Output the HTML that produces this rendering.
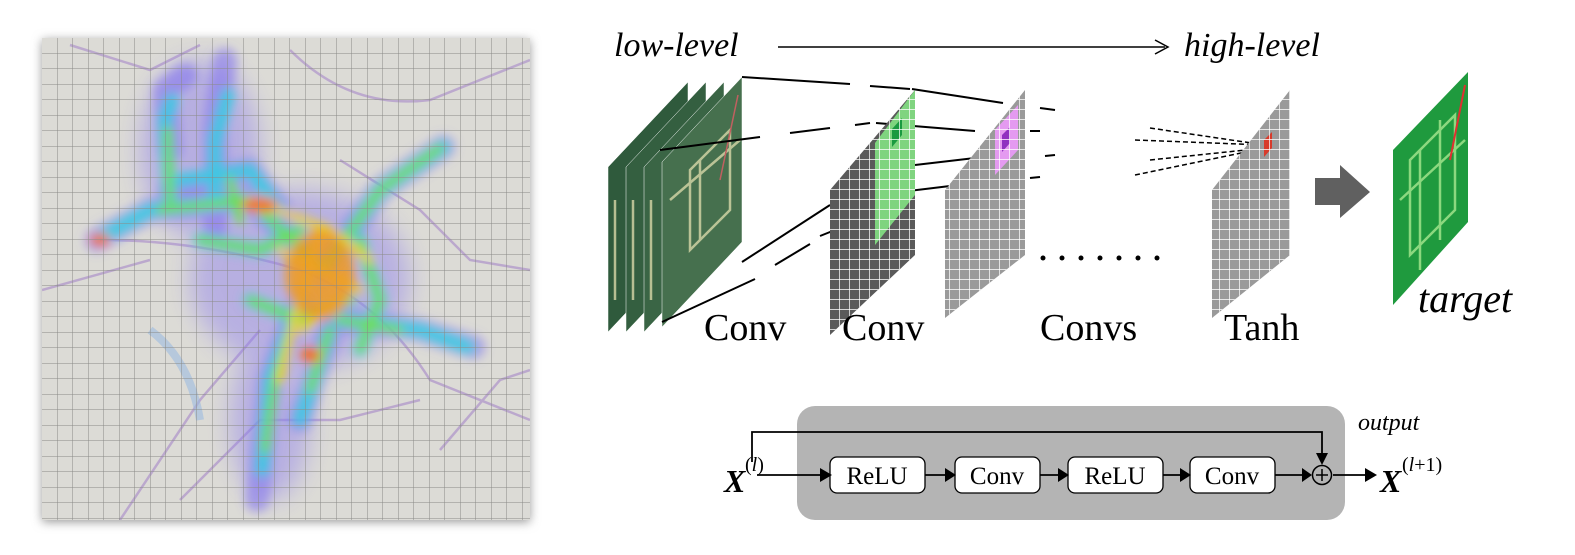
<!DOCTYPE html>
<html><head><meta charset="utf-8"><style>
html,body{margin:0;padding:0;background:#fff;width:1575px;height:555px;overflow:hidden}
svg{display:block}
</style></head><body>
<svg width="1575" height="555" viewBox="0 0 1575 555" xmlns="http://www.w3.org/2000/svg">
<defs>
<filter id="sh" x="-10%" y="-10%" width="120%" height="120%"><feGaussianBlur stdDeviation="5"/></filter>
<filter id="b6"><feGaussianBlur stdDeviation="5"/></filter>
<filter id="b12"><feGaussianBlur stdDeviation="12"/></filter>
<pattern id="grid" width="15.5" height="15.5" patternUnits="userSpaceOnUse" x="42" y="38">
<path d="M15.5 0V15.5M0 15.5H15.5" stroke="#8a8a86" stroke-width="1" fill="none"/>
</pattern>
<pattern id="g2" width="10" height="10" patternUnits="userSpaceOnUse">
<path d="M10 0V10M0 10H10" stroke="#fff" stroke-width="1.4" fill="none"/>
</pattern>
<clipPath id="mapc"><rect x="42" y="38" width="488" height="482"/></clipPath>
</defs>

<!-- map -->
<rect x="42" y="40" width="488" height="482" fill="#999" filter="url(#sh)"/>
<rect x="42" y="38" width="488" height="482" fill="#dcdbd6"/>
<g clip-path="url(#mapc)">
<g fill="none" stroke="#b49ccc" stroke-width="2.5" opacity="0.8">
<path d="M70 45 L150 70 L200 45"/><path d="M100 240 Q200 240 300 270 Q380 300 430 380 L530 420"/>
<path d="M42 290 L150 260"/><path d="M120 520 L200 400 L260 330"/>
<path d="M290 50 Q350 110 430 100 L530 60"/><path d="M340 160 L420 210 L470 260 L530 270"/>
<path d="M180 500 L260 420 L340 420 L420 400"/><path d="M440 450 L500 380 L530 370"/>
</g>
<path d="M150 330 Q190 360 200 420" stroke="#9dbbe0" stroke-width="8" fill="none" opacity="0.6"/>
<g filter="url(#b12)" opacity="0.45" fill="#8b7cf0">
<ellipse cx="300" cy="280" rx="110" ry="90"/><ellipse cx="200" cy="150" rx="60" ry="90"/><ellipse cx="270" cy="420" rx="40" ry="80"/>
</g>
<g fill="none" stroke-linecap="round" stroke-linejoin="round" filter="url(#b6)">
<g stroke="#7f70f0" stroke-width="24" opacity="0.55">
<path d="M323 270 L380 190 L443 147"/><path d="M323 270 L250 200 L150 210 L97 240"/>
<path d="M170 150 L165 90 L185 75"/><path d="M215 230 L215 130 L225 60"/>
<path d="M300 300 L270 380 L257 500"/><path d="M340 320 L420 330 L473 347"/>
<path d="M330 330 L310 390 L300 420"/><path d="M170 190 L250 170 L280 210"/>
</g>
<g stroke="#30d0e0" stroke-width="13" opacity="0.85">
<path d="M323 270 L380 190 L443 147"/><path d="M323 270 L250 200 L150 210 L97 240"/>
<path d="M170 200 L165 120 L172 100"/><path d="M215 200 L215 140 L228 95"/>
<path d="M300 300 L270 380 L262 470"/><path d="M340 320 L420 330 L468 347"/>
<path d="M330 330 L310 390 L300 420"/><path d="M180 180 L250 170 L280 210"/>
<path d="M200 240 L260 250 L300 230"/><path d="M250 300 L300 320 L350 300"/><path d="M360 240 L380 300 L360 350"/>
</g>
<g stroke="#70e040" stroke-width="8">
<path d="M323 270 L380 190 L440 148"/><path d="M323 270 L250 200 L160 210"/>
<path d="M170 200 L168 130"/><path d="M300 300 L275 380 L265 450"/>
<path d="M340 320 L400 330"/><path d="M330 330 L310 390"/>
<path d="M200 240 L260 250 L300 230"/><path d="M250 300 L300 320 L350 300"/><path d="M360 240 L380 300 L360 350"/><path d="M230 180 L240 220"/>
</g>
<g stroke="#f0d020" stroke-width="7">
<path d="M320 230 L300 300 L280 380"/><path d="M250 200 L330 230 L370 260"/><path d="M280 250 L360 290"/><path d="M300 330 L340 300"/>
</g>
<ellipse cx="320" cy="275" rx="35" ry="45" fill="#f09a20" stroke="none" opacity="0.85"/>
<ellipse cx="260" cy="205" rx="18" ry="8" fill="#f07a20" stroke="none"/>
<ellipse cx="100" cy="240" rx="10" ry="6" fill="#f07020" stroke="none"/>
<ellipse cx="310" cy="355" rx="10" ry="8" fill="#f07020" stroke="none"/>
</g>
<rect x="42" y="38" width="488" height="482" fill="url(#grid)"/>
</g>

<!-- top labels -->
<text x="614" y="56" font-family="Liberation Serif,serif" font-style="italic" font-size="34">low-level</text>
<line x1="778" y1="47" x2="1165" y2="47" stroke="#000" stroke-width="1.5"/>
<path d="M1155 40 L1168 47 L1155 54" fill="none" stroke="#000" stroke-width="1.5"/>
<text x="1184" y="56" font-family="Liberation Serif,serif" font-style="italic" font-size="34">high-level</text>

<!-- input stack -->
<g stroke="#fff" stroke-width="0.5">
<polygon points="608,167 688,82 688,247 608,332" fill="#2f5a3c"/>
<polygon points="626,167 706,82 706,247 626,332" fill="#345f40"/>
<polygon points="644,167 724,82 724,247 644,332" fill="#3a6545"/>
<polygon points="662,162 742,77 742,242 662,327" fill="#46704e"/>
</g>
<g fill="none" stroke="#d8d8a8" stroke-width="2.5" opacity="0.8">
<path d="M690 170 L730 130 L730 210 L690 250Z"/><path d="M700 160 L700 240"/><path d="M670 200 L740 140"/>
<path d="M615 200 L615 300"/><path d="M633 200 L633 300"/><path d="M651 200 L651 300"/>
</g>
<path d="M738 95 L720 180" stroke="#c06060" stroke-width="1.5"/>

<!-- projection lines -->
<g stroke="#000" stroke-width="2" fill="none">
<path d="M742 77 L850 84"/><path d="M870 86 L910 89"/><path d="M912 89 L1003 103"/>
<path d="M660 150 L760 137"/><path d="M790 133 L830 128"/><path d="M855 125 L870 123"/>
<path d="M876 123 L975 131"/>
<path d="M742 262 L830 205"/><path d="M775 265 L810 244"/><path d="M820 236 L835 230"/>
<path d="M662 322 L755 279"/>
<path d="M915 165 L975 158"/><path d="M875 195 L950 186"/>
<path d="M1040 108 L1055 110"/><path d="M1030 131 L1040 131"/><path d="M1045 156 L1055 155"/><path d="M1030 178 L1040 177"/>
</g>
<g stroke="#000" stroke-width="1.5" stroke-dasharray="5,3" fill="none">
<path d="M1150 128 L1265 145"/><path d="M1135 140 L1265 145"/><path d="M1150 160 L1265 148"/><path d="M1135 175 L1265 148"/>
</g>

<!-- conv plate 2 -->
<polygon points="830,190 915,90 915,255 830,335" fill="#5a5a5a"/>
<polygon points="875,143 915,90 915,195 875,245" fill="#7fd47f"/>
<polygon points="892,129 902,118 902,135 892,147" fill="#1a9a40"/>
<polygon points="830,190 915,90 915,255 830,335" fill="url(#g2)"/>
<!-- plate 3 -->
<polygon points="945,190 1025,90 1025,255 945,318" fill="#9a9a9a"/>
<polygon points="995,130 1018,105 1018,150 995,175" fill="#e49af0"/>
<polygon points="1002,135 1010,127 1010,143 1002,152" fill="#9030c0"/>
<polygon points="945,190 1025,90 1025,255 945,318" fill="url(#g2)"/>
<!-- tanh plate -->
<polygon points="1212,190 1290,90 1290,255 1212,318" fill="#9a9a9a"/>
<polygon points="1264,140 1272,132 1272,148 1264,157" fill="#d83a2a"/>
<polygon points="1212,190 1290,90 1290,255 1212,318" fill="url(#g2)"/>

<!-- dots -->
<g fill="#000"><circle cx="1043" cy="258" r="2.5"/><circle cx="1062" cy="258" r="2.5"/><circle cx="1081" cy="258" r="2.5"/><circle cx="1100" cy="258" r="2.5"/><circle cx="1119" cy="258" r="2.5"/><circle cx="1138" cy="258" r="2.5"/><circle cx="1157" cy="258" r="2.5"/></g>

<!-- big arrow -->
<polygon points="1315,178 1340,178 1340,165 1370,192 1340,218 1340,205 1315,205" fill="#606060"/>

<!-- target plate -->
<polygon points="1393,150 1468,72 1468,222 1393,305" fill="#1f9a3e"/>
<g fill="none" stroke="#a8e890" stroke-width="2.5" opacity="0.8">
<path d="M1410 160 L1455 115 L1455 210 L1410 255Z"/><path d="M1420 150 L1420 270"/><path d="M1400 200 L1465 140"/><path d="M1440 120 L1440 240"/>
</g>
<path d="M1465 85 L1450 160" stroke="#e03030" stroke-width="2"/>

<!-- labels -->
<g font-family="Liberation Serif,serif" font-size="38">
<text x="704" y="340">Conv</text><text x="842" y="340">Conv</text><text x="1040" y="340">Convs</text><text x="1224" y="340">Tanh</text>
</g>
<text x="1418" y="312" font-family="Liberation Serif,serif" font-style="italic" font-size="40">target</text>

<!-- residual block -->
<rect x="797" y="406" width="548" height="114" rx="18" fill="#b4b4b4"/>
<text x="1358" y="430" font-family="Liberation Serif,serif" font-style="italic" font-size="24">output</text>
<g font-family="Liberation Serif,serif" font-size="25">
<rect x="830" y="457" width="95" height="36" rx="7" fill="#fff" stroke="#000" stroke-width="1.3"/><text x="877" y="484" text-anchor="middle">ReLU</text>
<rect x="955" y="457" width="85" height="36" rx="7" fill="#fff" stroke="#000" stroke-width="1.3"/><text x="997" y="484" text-anchor="middle">Conv</text>
<rect x="1068" y="457" width="95" height="36" rx="7" fill="#fff" stroke="#000" stroke-width="1.3"/><text x="1115" y="484" text-anchor="middle">ReLU</text>
<rect x="1190" y="457" width="85" height="36" rx="7" fill="#fff" stroke="#000" stroke-width="1.3"/><text x="1232" y="484" text-anchor="middle">Conv</text>
</g>
<g stroke="#000" stroke-width="1.8" fill="none">
<path d="M757 475 L820 475"/><path d="M925 475 L945 475"/><path d="M1040 475 L1058 475"/><path d="M1163 475 L1180 475"/><path d="M1275 475 L1302 475"/><path d="M1333 475 L1365 475"/>
<path d="M752 462 L752 432 L1322 432 L1322 455"/>
</g>
<g fill="#000">
<polygon points="820,468 832,475 820,482"/><polygon points="945,468 956,475 945,482"/><polygon points="1058,468 1069,475 1058,482"/><polygon points="1180,468 1191,475 1180,482"/><polygon points="1302,468 1312,475 1302,482"/><polygon points="1365,468 1377,475 1365,482"/>
<polygon points="1316,453 1328,453 1322,465"/>
</g>
<circle cx="1322" cy="475" r="9.5" fill="none" stroke="#000" stroke-width="1.5"/>
<path d="M1316 475 H1328 M1322 469 V481" stroke="#000" stroke-width="1.5"/>
<text x="724" y="492" font-family="Liberation Serif,serif" font-style="italic" font-weight="bold" font-size="32">X</text>
<text x="745" y="471" font-family="Liberation Serif,serif" font-size="20">(<tspan font-style="italic">l</tspan>)</text>
<text x="1380" y="492" font-family="Liberation Serif,serif" font-style="italic" font-weight="bold" font-size="32">X</text>
<text x="1402" y="471" font-family="Liberation Serif,serif" font-size="20">(<tspan font-style="italic">l</tspan>+1)</text>
</svg>
</body></html>
